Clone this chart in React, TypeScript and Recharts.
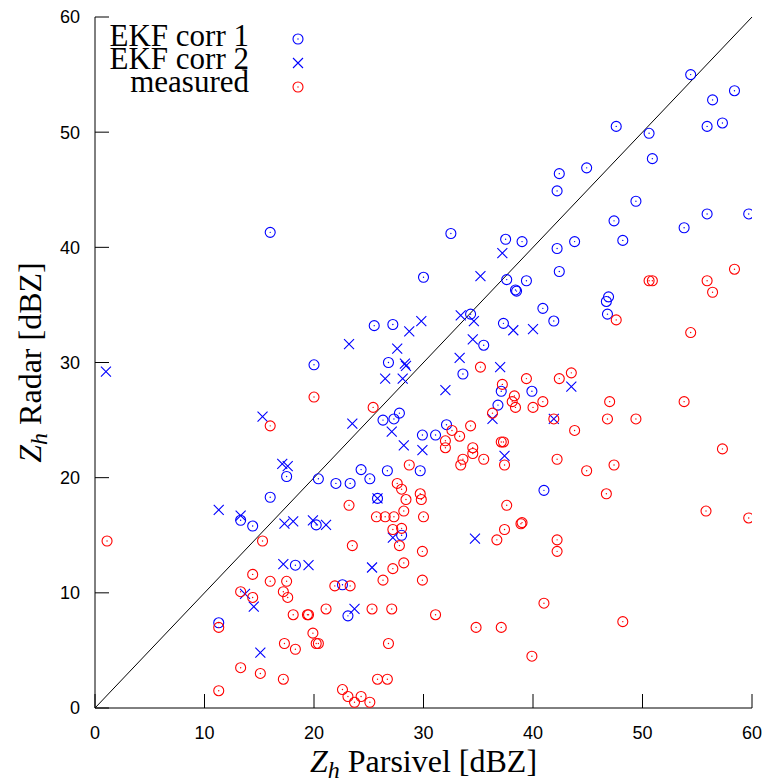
import React from "react";
import { ScatterChart, Scatter, XAxis, YAxis, ReferenceLine } from "recharts";

// [Zh Parsivel, Zh Radar] pairs in dBZ
const ekfCorr1 = [
  [54.4, 55.0], [58.4, 53.6], [56.4, 52.8], [47.6, 50.5], [50.6, 49.9], [55.9, 50.5], [57.3, 50.8],
  [50.9, 47.7], [42.4, 46.4], [44.9, 46.9], [42.2, 44.9], [49.4, 44.0], [47.4, 42.3], [55.9, 42.9],
  [59.7, 42.9], [53.8, 41.7], [48.2, 40.6], [43.8, 40.5], [39.0, 40.5], [42.2, 39.9], [42.4, 37.9],
  [39.4, 37.1], [46.9, 35.7], [46.7, 35.3], [40.9, 34.7], [46.8, 34.2], [41.9, 33.6], [39.9, 27.5],
  [16.0, 41.3], [32.5, 41.2], [37.5, 40.7], [30.0, 37.4], [37.6, 37.2], [38.4, 36.3], [38.5, 36.2],
  [34.3, 34.2], [37.3, 33.4], [25.5, 33.2], [27.2, 33.3], [35.5, 31.5], [20.0, 29.8], [26.8, 30.0],
  [33.6, 29.0], [37.1, 27.5], [36.8, 26.3], [27.8, 25.6], [27.3, 25.1], [26.3, 25.0], [32.1, 24.6],
  [29.9, 23.7], [31.1, 23.7], [20.4, 19.9], [22.0, 19.5], [23.3, 19.5], [24.3, 20.7], [25.1, 19.9],
  [26.7, 20.6], [29.7, 20.6], [25.8, 18.2], [20.2, 15.9], [28.0, 15.0], [22.6, 10.7], [23.1, 8.0],
  [41.0, 18.9], [17.5, 20.1], [16.0, 18.3], [13.3, 16.3], [14.4, 15.8], [18.3, 12.4], [11.3, 7.4],
];

const ekfCorr2 = [
  [1.0, 29.2], [15.3, 25.3], [37.2, 39.5], [35.2, 37.5], [33.4, 34.1], [34.6, 33.6], [38.2, 32.8],
  [40.0, 32.9], [29.8, 33.6], [28.7, 32.7], [23.2, 31.6], [27.6, 31.2], [34.5, 32.0], [28.3, 29.9],
  [28.4, 29.7], [33.3, 30.4], [37.0, 29.6], [26.5, 28.6], [28.1, 28.6], [32.0, 27.6], [36.3, 25.1],
  [23.5, 24.7], [27.1, 24.0], [28.2, 22.8], [29.9, 22.4], [37.4, 21.9], [43.5, 27.9], [41.9, 25.1],
  [25.8, 18.2], [34.7, 14.7], [19.9, 16.3], [21.1, 15.9], [27.2, 14.8], [19.5, 12.4], [25.3, 12.2],
  [23.7, 8.6], [17.1, 21.2], [17.6, 21.0], [11.3, 17.2], [13.3, 16.7], [17.3, 16.0], [18.1, 16.2],
  [17.2, 12.5], [13.7, 9.9], [14.5, 8.8], [15.1, 4.8],
];

const measured = [
  [1.1, 14.5], [15.3, 14.5], [16.0, 24.5], [20.0, 27.0], [25.4, 26.1], [35.2, 29.6], [37.2, 28.1],
  [39.4, 28.6], [38.3, 27.1], [38.1, 26.6], [38.4, 26.1], [36.3, 25.6], [34.3, 24.5], [32.6, 24.1],
  [33.3, 23.6], [32.0, 23.2], [32.0, 22.6], [34.5, 22.6], [37.1, 23.1], [37.3, 23.1], [34.5, 22.1],
  [33.6, 21.6], [33.4, 21.1], [35.5, 21.6], [37.4, 21.1], [28.7, 21.1], [27.6, 19.5], [28.0, 19.0],
  [29.7, 18.6], [29.8, 18.1], [28.4, 18.1], [23.2, 17.6], [28.2, 17.1], [25.7, 16.6], [26.5, 16.6],
  [27.3, 16.6], [30.0, 16.6], [27.2, 15.5], [28.0, 15.6], [27.8, 14.1], [23.5, 14.1], [29.9, 13.6],
  [28.2, 12.6], [27.2, 12.1], [26.3, 11.1], [29.9, 11.1], [21.9, 10.6], [23.3, 10.6], [19.5, 8.1],
  [21.1, 8.6], [25.3, 8.6], [27.1, 8.6], [31.1, 8.1], [34.8, 7.0], [37.1, 7.0], [19.9, 6.5],
  [20.2, 5.6], [20.4, 5.6], [26.8, 5.6], [25.8, 2.5], [26.7, 2.5], [22.6, 1.6], [23.1, 1.0],
  [24.3, 1.0], [23.7, 0.5], [25.1, 0.5], [37.6, 17.6], [38.9, 16.0], [37.4, 15.5], [36.7, 14.6],
  [39.9, 4.5], [41.0, 9.1], [48.2, 7.5], [42.2, 13.6], [42.2, 14.6], [39.0, 16.1], [46.7, 18.6],
  [44.9, 20.6], [47.4, 21.1], [42.2, 21.6], [55.8, 17.1], [59.7, 16.5], [57.3, 22.5], [43.8, 24.1],
  [41.9, 25.1], [46.8, 25.1], [49.4, 25.1], [40.0, 26.1], [40.9, 26.6], [47.0, 26.6], [53.8, 26.6],
  [42.4, 28.6], [43.5, 29.1], [47.6, 33.7], [54.4, 32.6], [50.6, 37.1], [50.9, 37.1], [55.9, 37.1],
  [56.4, 36.1], [58.4, 38.1], [11.3, 7.0], [11.3, 1.5], [13.3, 10.1], [13.3, 3.5], [14.4, 11.6],
  [14.4, 9.6], [15.1, 3.0], [16.0, 11.0], [17.5, 11.0], [17.2, 10.1], [17.6, 9.6], [17.2, 2.5],
  [17.3, 5.6], [18.3, 5.1], [18.1, 8.1], [19.4, 8.1],
];

const axisTicks = [0, 10, 20, 30, 40, 50, 60];

const BLUE = "#0000ff";
const RED = "#ff0000";
const SERIF = "'Liberation Serif', 'Times New Roman', serif";
const SANS = "'Liberation Sans', Arial, sans-serif";

const toPoints = (pairs: number[][]) => pairs.map(([x, y]) => ({ x, y }));

const DotCircle = ({ cx, cy, color }: any) => (
  <g>
    <circle cx={cx} cy={cy} r={5} fill="none" stroke={color} strokeWidth={1.1} />
    <circle cx={cx} cy={cy} r={0.7} fill={color} />
  </g>
);

const Cross = ({ cx, cy, color }: any) => (
  <path
    d={`M${cx - 5},${cy - 5}L${cx + 5},${cy + 5}M${cx - 5},${cy + 5}L${cx + 5},${cy - 5}`}
    stroke={color}
    strokeWidth={1.1}
    fill="none"
  />
);

const xTitle = (props: any) => {
  const vb = props.viewBox;
  return (
    <text x={vb.x + vb.width / 2} y={vb.y + 64} textAnchor="middle" fontFamily={SERIF} fontSize={32} fill="#000">
      <tspan fontStyle="italic">Z</tspan>
      <tspan fontStyle="italic" fontSize={24} dy={6}>h</tspan>
      <tspan dy={-6}> Parsivel [dBZ]</tspan>
    </text>
  );
};

const yTitle = (props: any) => {
  const vb = props.viewBox;
  const x = 41;
  const y = vb.y + vb.height / 2;
  return (
    <text x={x} y={y} textAnchor="middle" fontFamily={SERIF} fontSize={32} fill="#000" transform={`rotate(-90 ${x} ${y})`}>
      <tspan fontStyle="italic">Z</tspan>
      <tspan fontStyle="italic" fontSize={24} dy={6}>h</tspan>
      <tspan dy={-6}> Radar [dBZ]</tspan>
    </text>
  );
};

const legendRows = [
  { label: "EKF corr 1", kind: "circle", color: BLUE, base: 46, mid: 39 },
  { label: "EKF corr 2", kind: "cross", color: BLUE, base: 69, mid: 63 },
  { label: "measured", kind: "circle", color: RED, base: 92, mid: 87 },
];

const App: React.FC = () => (
  <div style={{ position: "absolute", left: 0, top: 0, width: 767, height: 781, background: "#fff" }}>
    <ScatterChart width={767} height={781} margin={{ top: 17, right: 15, bottom: 0, left: 0 }}>
      <XAxis
        xAxisId={0}
        type="number"
        dataKey="x"
        domain={[0, 60]}
        ticks={axisTicks}
        allowDataOverflow
        height={73}
        stroke="#000"
        tickSize={-14}
        tickMargin={32}
        tick={{ fontSize: 18, fontFamily: SANS, fill: "#000" }}
        label={xTitle}
      />
      <XAxis xAxisId="top" orientation="top" type="number" domain={[0, 60]} ticks={axisTicks} height={0} stroke="#000" tickSize={-14} tick={false} />
      <YAxis
        yAxisId={0}
        type="number"
        dataKey="y"
        domain={[0, 60]}
        ticks={axisTicks}
        allowDataOverflow
        width={95}
        stroke="#000"
        tickSize={-14}
        tickMargin={29}
        tick={{ fontSize: 18, fontFamily: SANS, fill: "#000" }}
        label={yTitle}
      />
      <YAxis yAxisId="right" orientation="right" type="number" domain={[0, 60]} ticks={axisTicks} width={0} stroke="#000" tickSize={-14} tick={false} />
      <ReferenceLine xAxisId={0} yAxisId={0} segment={[{ x: 0, y: 0 }, { x: 60, y: 60 }]} stroke="#000" strokeWidth={1} />
      <Scatter xAxisId={0} yAxisId={0} name="EKF corr 1" data={toPoints(ekfCorr1)} isAnimationActive={false}
        shape={(p: any) => <DotCircle cx={p.cx} cy={p.cy} color={BLUE} />} />
      <Scatter xAxisId={0} yAxisId={0} name="EKF corr 2" data={toPoints(ekfCorr2)} isAnimationActive={false}
        shape={(p: any) => <Cross cx={p.cx} cy={p.cy} color={BLUE} />} />
      <Scatter xAxisId={0} yAxisId={0} name="measured" data={toPoints(measured)} isAnimationActive={false}
        shape={(p: any) => <DotCircle cx={p.cx} cy={p.cy} color={RED} />} />
    </ScatterChart>
    <svg width={767} height={781} style={{ position: "absolute", left: 0, top: 0, pointerEvents: "none" }}>
      {legendRows.map((r) => (
        <g key={r.label}>
          <text x={249} y={r.base} textAnchor="end" fontFamily={SERIF} fontSize={31} fill="#000">{r.label}</text>
          {r.kind === "circle" ? <DotCircle cx={298} cy={r.mid} color={r.color} /> : <Cross cx={298} cy={r.mid} color={r.color} />}
        </g>
      ))}
    </svg>
  </div>
);

export default App;
